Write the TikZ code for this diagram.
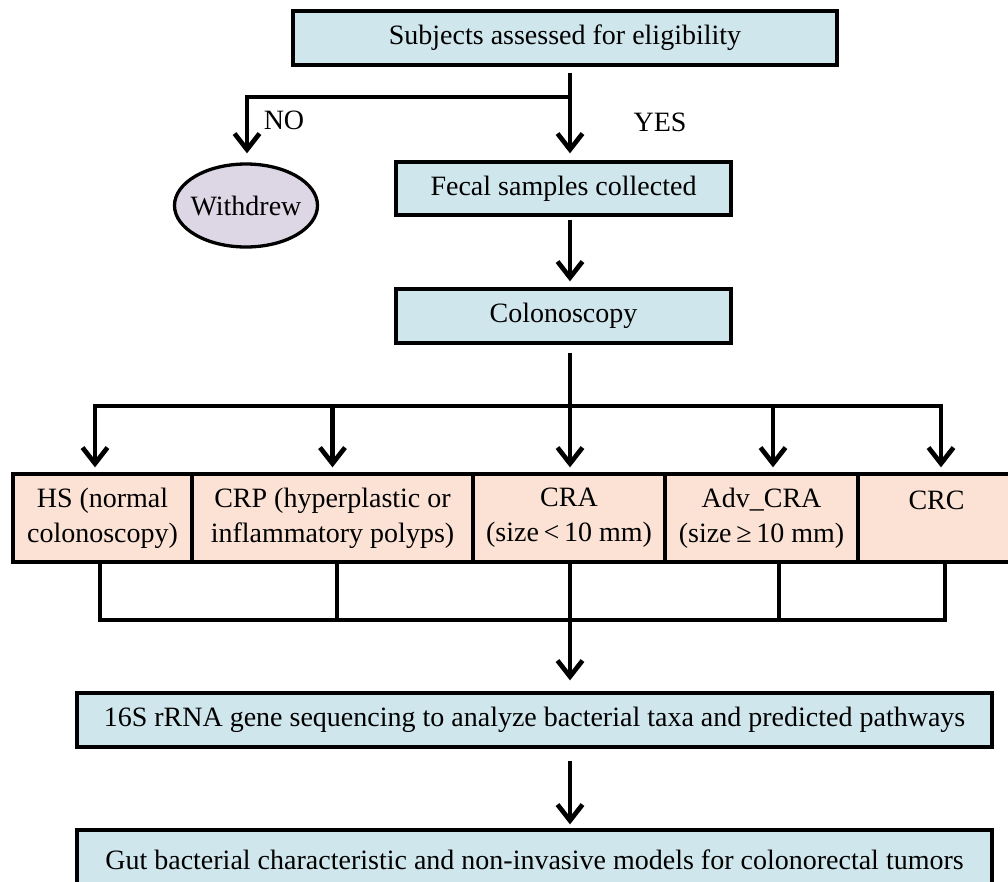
\documentclass[tikz,border=0pt]{standalone}
\usepackage{fontspec}
\setmainfont{Liberation Serif}
\usetikzlibrary{arrows.meta, shapes.geometric}

\definecolor{boxblue}{RGB}{208,230,237}
\definecolor{boxpeach}{RGB}{251,226,213}
\definecolor{boxlilac}{RGB}{221,215,229}

\tikzset{
  stepbox/.style={rectangle, draw=black, line width=3.3pt, fill=boxblue, inner sep=0pt, align=center},
  groupbox/.style={stepbox, fill=boxpeach, minimum height=88pt},
  conn/.style={line width=4.7pt},
  arr/.style={conn, -{Straight Barb[length=16pt,width=25pt]}},
}

\begin{document}
\begin{tikzpicture}[x=1pt, y=-1pt, font=\fontsize{28}{35}\selectfont]
\useasboundingbox (0,0) rectangle (1008,881);

\node[stepbox, minimum width=544pt, minimum height=54pt] (subj) at (565,38) {Subjects assessed for eligibility};
\node[stepbox, minimum width=335pt, minimum height=53pt] (fecal) at (563.5,188.5) {Fecal samples collected};
\node[stepbox, minimum width=335pt, minimum height=54pt] (colo) at (563.5,316) {Colonoscopy};
\node[ellipse, draw=black, line width=3.3pt, fill=boxlilac, minimum width=143pt, minimum height=83pt, inner xsep=-6pt, inner ysep=0pt] (withdrew) at (246,205.5) {Withdrew};

\node (no) at (284,120) {NO};
\node (yes) at (660,122) {YES};

\node[groupbox, minimum width=179pt] (hs) at (102.5,518) {HS (normal\\colonoscopy)};
\node[groupbox, minimum width=281pt] (crp) at (332.5,518) {CRP (hyperplastic or\\inflammatory polyps)};
\node[groupbox, minimum width=192pt] (cra) at (569,518) {CRA\\(size\,<\,10 mm)};
\node[groupbox, minimum width=193pt] (adv) at (761.5,518) {Adv\_CRA\\(size\,≥\,10 mm)};
\node[groupbox, minimum width=157pt] (crc) at (936.5,518) {CRC\\\mbox{}};

\node[stepbox, minimum width=915pt, minimum height=54pt] (seq) at (534.5,720) {16S rRNA gene sequencing to analyze bacterial taxa and predicted pathways};
\node[stepbox, minimum width=915pt, minimum height=60pt] (gut) at (534.5,860) {Gut bacterial characteristic and non-invasive models for colonorectal tumors};

\coordinate (split) at (570,97);
\coordinate (noturn) at (247,97);
\coordinate (tbL) at (95,406);
\coordinate (tbR) at (941,406);
\coordinate (tbA) at (773,406);
\coordinate (bbL) at (100,620);
\coordinate (bbR) at (945,620);
\coordinate (bbC) at (337,620);
\coordinate (bbA) at (779,620);

\draw[arr, shorten <=6pt, shorten >=7pt] (subj.south -| split) -- (fecal.north -| split);
\draw[arr, shorten >=9pt] (split) -- (noturn) -- (withdrew.north -| noturn);
\draw[arr, shorten <=3pt, shorten >=6pt] (fecal.south -| split) -- (colo.north -| split);

\draw[conn, shorten <=8pt] (colo.south -| split) -- (split |- tbL);
\draw[arr, shorten >=5pt] (split |- tbL) -- (tbL) -- (hs.north -| tbL);
\draw[arr, shorten >=5pt] (split |- tbL) -- (tbR) -- (crc.north -| tbR);
\draw[arr, shorten >=5pt] (split |- tbL) -- (cra.north -| split);
\draw[arr, shorten >=5pt] (crp.north |- tbL) -- (crp.north);
\draw[arr, shorten >=5pt] (tbA) -- (adv.north -| tbA);

\draw[conn] (hs.south -| bbL) -- (bbL) -- (bbR) -- (crc.south -| bbR);
\draw[conn] (crp.south -| bbC) -- (bbC);
\draw[conn] (adv.south -| bbA) -- (bbA);
\draw[arr, shorten >=11pt] (cra.south -| split) -- (seq.north -| split);
\draw[arr, shorten <=12pt, shorten >=4pt] (seq.south -| split) -- (gut.north -| split);

\end{tikzpicture}
\end{document}
